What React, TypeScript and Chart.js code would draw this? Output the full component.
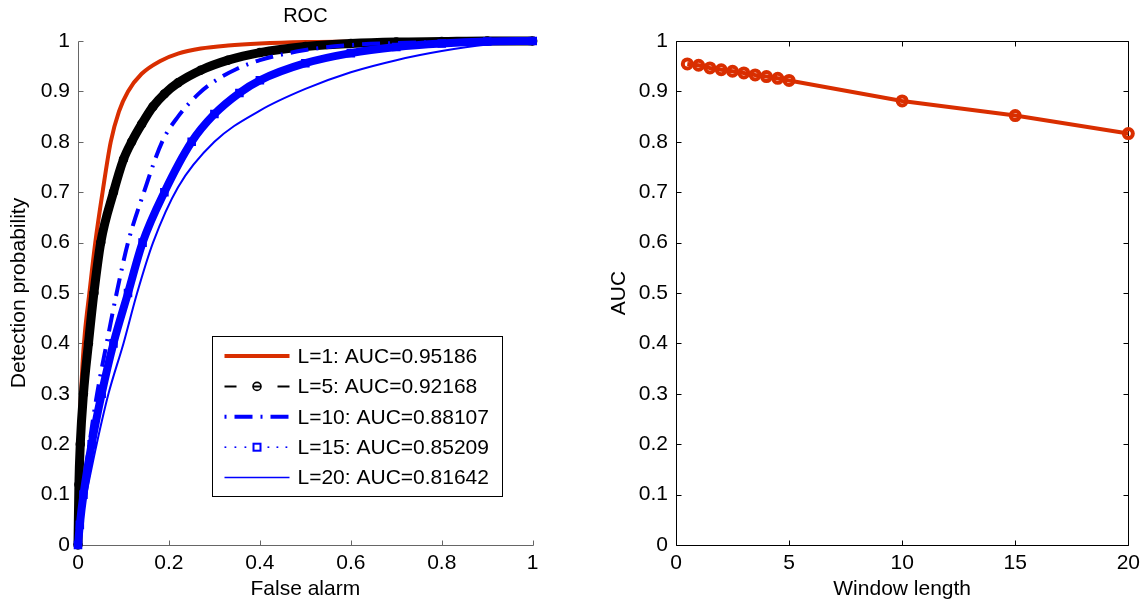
import { useEffect, useRef } from "react";
import { Chart, registerables } from "chart.js";

Chart.register(...registerables);

const FONT = "'Liberation Sans', Arial, Helvetica, sans-serif";
const RED = "rgb(217,46,0)";
const BLUE = "rgb(0,0,255)";

// ROC curves (False alarm -> Detection probability)
const rocL1X = [0, 0.002, 0.005, 0.01, 0.015, 0.025, 0.038, 0.054, 0.072, 0.09, 0.11, 0.14, 0.18, 0.22, 0.27, 0.33, 0.4, 0.5, 0.6, 0.7, 0.8, 1];
const rocL1Y = [0, 0.15, 0.26, 0.36, 0.42, 0.5, 0.6, 0.7, 0.8, 0.86, 0.9, 0.935, 0.96, 0.975, 0.985, 0.991, 0.995, 0.998, 0.999, 1, 1, 1];

const rocL5X = [0, 0.002, 0.005, 0.012, 0.023, 0.035, 0.05, 0.078, 0.1, 0.118, 0.14, 0.165, 0.19, 0.22, 0.27, 0.33, 0.4, 0.5, 0.6, 0.7, 0.8, 0.9, 1];
const rocL5Y = [0, 0.12, 0.2, 0.3, 0.4, 0.5, 0.6, 0.7, 0.765, 0.8, 0.835, 0.87, 0.895, 0.917, 0.942, 0.962, 0.977, 0.989, 0.995, 0.998, 0.999, 1, 1];

const rocL10X = [0, 0.004, 0.01, 0.025, 0.042, 0.063, 0.085, 0.11, 0.145, 0.185, 0.22, 0.265, 0.3, 0.35, 0.4, 0.5, 0.6, 0.7, 0.8, 0.9, 1];
const rocL10Y = [0, 0.05, 0.1, 0.2, 0.3, 0.4, 0.5, 0.6, 0.7, 0.8, 0.85, 0.895, 0.92, 0.945, 0.962, 0.982, 0.992, 0.996, 0.998, 0.999, 1];

const rocL15X = [0, 0.004, 0.012, 0.03, 0.052, 0.078, 0.11, 0.142, 0.19, 0.25, 0.3, 0.355, 0.4, 0.5, 0.6, 0.7, 0.8, 0.9, 1];
const rocL15Y = [0, 0.04, 0.1, 0.2, 0.3, 0.4, 0.5, 0.6, 0.7, 0.8, 0.855, 0.897, 0.922, 0.956, 0.976, 0.988, 0.995, 0.999, 1];

const rocL20X = [0, 0.005, 0.018, 0.041, 0.067, 0.1, 0.13, 0.165, 0.22, 0.3, 0.4, 0.5, 0.6, 0.7, 0.8, 0.9, 1];
const rocL20Y = [0, 0.04, 0.1, 0.2, 0.3, 0.4, 0.5, 0.6, 0.71, 0.8, 0.862, 0.905, 0.938, 0.962, 0.98, 0.993, 1];

const legendLabels = [
  "L=1: AUC=0.95186",
  "L=5: AUC=0.92168",
  "L=10: AUC=0.88107",
  "L=15: AUC=0.85209",
  "L=20: AUC=0.81642",
];

// AUC vs window length
const windowLengths = [0.5, 1, 1.5, 2, 2.5, 3, 3.5, 4, 4.5, 5, 10, 15, 20];
const aucValues = [0.9545, 0.9519, 0.9465, 0.943, 0.94, 0.9366, 0.9327, 0.9294, 0.926, 0.9217, 0.8811, 0.8521, 0.8164];

const zip = (xs: number[], ys: number[]) => xs.map((x, i) => ({ x, y: ys[i] }));
const fmt = (v: any) => String(Number(Number(v).toFixed(4)));

function axesPlugin(color: string, box: boolean) {
  return {
    id: "matlabAxes",
    beforeDatasetsDraw(chart: any) {
      const { ctx, chartArea } = chart;
      const left = Math.round(chartArea.left) + 0.5;
      const right = Math.round(chartArea.right) + 0.5;
      const top = Math.round(chartArea.top) + 0.5;
      const bottom = Math.round(chartArea.bottom) + 0.5;
      const xs = chart.scales.x;
      const ys = chart.scales.y;
      const L = 5;
      ctx.save();
      ctx.strokeStyle = color;
      ctx.lineWidth = 1;
      ctx.beginPath();
      ctx.moveTo(left, top);
      ctx.lineTo(left, bottom);
      ctx.lineTo(right, bottom);
      if (box) {
        ctx.lineTo(right, top);
        ctx.lineTo(left, top);
      }
      xs.ticks.forEach((t: any) => {
        const px = Math.round(xs.getPixelForValue(t.value)) + 0.5;
        ctx.moveTo(px, bottom);
        ctx.lineTo(px, bottom - L);
        if (box) {
          ctx.moveTo(px, top);
          ctx.lineTo(px, top + L);
        }
      });
      ys.ticks.forEach((t: any) => {
        const py = Math.round(ys.getPixelForValue(t.value)) + 0.5;
        ctx.moveTo(left, py);
        ctx.lineTo(left + L, py);
        if (box) {
          ctx.moveTo(right, py);
          ctx.lineTo(right - L, py);
        }
      });
      ctx.stroke();
      ctx.restore();
    },
  };
}

const titlePlugin = {
  id: "rocTitle",
  afterDraw(chart: any) {
    const { ctx, chartArea } = chart;
    ctx.save();
    ctx.font = `20px ${FONT}`;
    ctx.fillStyle = "#000";
    ctx.textAlign = "center";
    ctx.textBaseline = "middle";
    ctx.fillText("ROC", (chartArea.left + chartArea.right) / 2, 16);
    ctx.restore();
  },
};

function drawSample(ctx: CanvasRenderingContext2D, i: number, x0: number, x1: number, cy: number) {
  const mid = (x0 + x1) / 2;
  ctx.save();
  ctx.beginPath();
  if (i === 0) {
    ctx.strokeStyle = RED;
    ctx.lineWidth = 4;
    ctx.moveTo(x0, cy);
    ctx.lineTo(x1, cy);
    ctx.stroke();
  } else if (i === 1) {
    ctx.strokeStyle = "#000";
    ctx.lineWidth = 2;
    ctx.moveTo(x0, cy);
    ctx.lineTo(x0 + 12, cy);
    ctx.moveTo(x1 - 12, cy);
    ctx.lineTo(x1, cy);
    ctx.moveTo(mid - 4, cy);
    ctx.lineTo(mid + 4, cy);
    ctx.stroke();
    ctx.beginPath();
    ctx.lineWidth = 1.6;
    ctx.arc(mid, cy, 4, 0, Math.PI * 2);
    ctx.stroke();
  } else if (i === 2) {
    ctx.strokeStyle = BLUE;
    ctx.lineWidth = 4;
    ctx.setLineDash([2, 8, 18, 8]);
    ctx.moveTo(x0, cy);
    ctx.lineTo(x1, cy);
    ctx.stroke();
  } else if (i === 3) {
    ctx.fillStyle = BLUE;
    [1, 11, 21, 44, 53, 62].forEach((o) => ctx.fillRect(x0 + o - 1, cy - 0.8, 1.8, 1.6));
    ctx.strokeStyle = BLUE;
    ctx.lineWidth = 2;
    ctx.strokeRect(mid - 3.5, cy - 3.5, 7, 7);
  } else {
    ctx.strokeStyle = BLUE;
    ctx.lineWidth = 1.5;
    ctx.moveTo(x0, cy);
    ctx.lineTo(x1, cy);
    ctx.stroke();
  }
  ctx.restore();
}

const legendPlugin = {
  id: "rocLegend",
  afterDraw(chart: any) {
    const { ctx, chartArea } = chart;
    const bw = 290;
    const bh = 160;
    const bx = Math.round(chartArea.right - 31 - bw) + 0.5;
    const by = Math.round(chartArea.bottom - 49.5 - bh) + 0.5;
    ctx.save();
    ctx.fillStyle = "#fff";
    ctx.fillRect(bx, by, bw, bh);
    ctx.strokeStyle = "#000";
    ctx.lineWidth = 1;
    ctx.strokeRect(bx, by, bw, bh);
    ctx.font = `21px ${FONT}`;
    ctx.textBaseline = "middle";
    legendLabels.forEach((label, i) => {
      const cy = by + 19.5 + i * 30.4;
      drawSample(ctx, i, bx + 12, bx + 77, cy);
      ctx.fillStyle = "#000";
      ctx.fillText(label, bx + 85, cy + 1);
    });
    ctx.restore();
  },
};

const tickFont = { family: FONT, size: 21 };

function RocChart() {
  const ref = useRef<HTMLCanvasElement>(null);
  useEffect(() => {
    const chart = new Chart(ref.current!, {
      type: "line",
      data: {
        datasets: [
          {
            label: legendLabels[0],
            data: zip(rocL1X, rocL1Y),
            borderColor: RED,
            borderWidth: 4,
            pointRadius: 0,
            cubicInterpolationMode: "monotone",
            order: 5,
            clip: false,
          },
          {
            label: legendLabels[1],
            data: zip(rocL5X, rocL5Y),
            borderColor: "#000",
            borderWidth: 9,
            pointRadius: 4,
            pointStyle: "circle",
            pointBorderColor: "#000",
            pointBackgroundColor: "#000",
            pointBorderWidth: 1.5,
            cubicInterpolationMode: "monotone",
            order: 4,
            clip: false,
          },
          {
            label: legendLabels[2],
            data: zip(rocL10X, rocL10Y),
            borderColor: BLUE,
            borderWidth: 4,
            borderDash: [18, 8, 2, 8],
            pointRadius: 0,
            cubicInterpolationMode: "monotone",
            order: 3,
            clip: false,
          },
          {
            label: legendLabels[3],
            data: zip(rocL15X, rocL15Y),
            borderColor: BLUE,
            borderWidth: 8,
            pointRadius: 5,
            pointStyle: "rect",
            pointBorderColor: BLUE,
            pointBackgroundColor: BLUE,
            pointBorderWidth: 1.5,
            cubicInterpolationMode: "monotone",
            order: 2,
            clip: false,
          },
          {
            label: legendLabels[4],
            data: zip(rocL20X, rocL20Y),
            borderColor: BLUE,
            borderWidth: 2,
            pointRadius: 0,
            cubicInterpolationMode: "monotone",
            order: 1,
            clip: false,
          },
        ],
      },
      options: {
        animation: false,
        responsive: false,
        layout: { padding: { top: 41, right: 40.3, left: 0, bottom: 0 } },
        plugins: { legend: { display: false }, tooltip: { enabled: false }, title: { display: false } },
        scales: {
          x: {
            type: "linear",
            min: 0,
            max: 1,
            ticks: { stepSize: 0.2, font: tickFont, color: "#000", padding: 6, callback: fmt },
            grid: { display: false, drawTicks: false },
            border: { display: false },
            title: { display: true, text: "False alarm", font: tickFont, color: "#000", padding: { top: 0, bottom: 3 } },
            afterFit: (s: any) => {
              s.height = 60;
            },
          },
          y: {
            type: "linear",
            min: 0,
            max: 1,
            ticks: { stepSize: 0.1, font: tickFont, color: "#000", padding: 8, callback: fmt },
            grid: { display: false, drawTicks: false },
            border: { display: false },
            title: { display: true, text: "Detection probability", font: tickFont, color: "#000", padding: { top: 7, bottom: 0 } },
            afterFit: (s: any) => {
              s.width = 78;
            },
          },
        },
      },
      plugins: [axesPlugin("#666", false), titlePlugin, legendPlugin],
    } as any);
    return () => chart.destroy();
  }, []);
  return <canvas ref={ref} width={573} height={605} style={{ position: "absolute", left: 0, top: 0 }} />;
}

function AucChart() {
  const ref = useRef<HTMLCanvasElement>(null);
  useEffect(() => {
    const chart = new Chart(ref.current!, {
      type: "line",
      data: {
        datasets: [
          {
            label: "AUC",
            data: zip(windowLengths, aucValues),
            borderColor: RED,
            borderWidth: 4,
            pointRadius: 4.5,
            pointStyle: "circle",
            pointBorderColor: RED,
            pointBackgroundColor: "rgba(255,255,255,0)",
            pointBorderWidth: 4,
            clip: false,
          },
        ],
      },
      options: {
        animation: false,
        responsive: false,
        layout: { padding: { top: 41, right: 15, left: 0, bottom: 0 } },
        plugins: { legend: { display: false }, tooltip: { enabled: false } },
        scales: {
          x: {
            type: "linear",
            min: 0,
            max: 20,
            ticks: { stepSize: 5, font: tickFont, color: "#000", padding: 6, callback: fmt },
            grid: { display: false, drawTicks: false },
            border: { display: false },
            title: { display: true, text: "Window length", font: tickFont, color: "#000", padding: { top: 0, bottom: 3 } },
            afterFit: (s: any) => {
              s.height = 60;
            },
          },
          y: {
            type: "linear",
            min: 0,
            max: 1,
            ticks: { stepSize: 0.1, font: tickFont, color: "#000", padding: 8, callback: fmt },
            grid: { display: false, drawTicks: false },
            border: { display: false },
            title: { display: true, text: "AUC", font: tickFont, color: "#000", padding: { top: 34, bottom: 0 } },
            afterFit: (s: any) => {
              s.width = 103;
            },
          },
        },
      },
      plugins: [axesPlugin("#000", true)],
    } as any);
    return () => chart.destroy();
  }, []);
  return <canvas ref={ref} width={573} height={605} style={{ position: "absolute", left: 573, top: 0 }} />;
}

export default function App() {
  return (
    <div style={{ position: "fixed", left: 0, top: 0, width: 1146, height: 605, background: "#fff", overflow: "hidden" }}>
      <RocChart />
      <AucChart />
    </div>
  );
}
